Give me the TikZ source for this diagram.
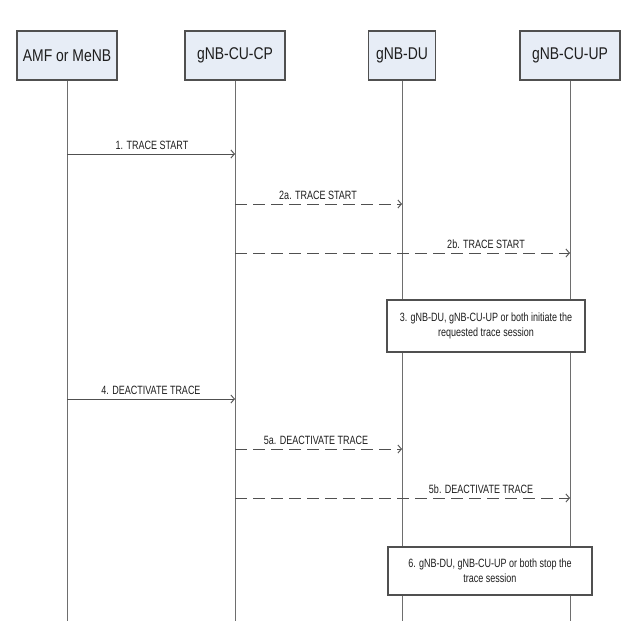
\documentclass[tikz,border=0pt]{standalone}
\usepackage{fontspec}
\setmainfont{Liberation Sans}
\newfontfamily\hdrfont[FakeStretch=0.82]{Liberation Sans}
\newfontfamily\lblfont[FakeStretch=0.75]{Liberation Sans}
\usetikzlibrary{arrows.meta}
\definecolor{hdrfill}{RGB}{231,237,246}
\definecolor{edge}{RGB}{80,80,80}
\definecolor{lifegray}{RGB}{110,110,110}
\definecolor{txt}{RGB}{30,30,30}
\tikzset{
  hdr/.style={draw=edge, line width=1.1pt, fill=hdrfill, minimum height=49pt, inner sep=0pt,
              font=\hdrfont\fontsize{17}{19}\selectfont, text=txt},
  lifeline/.style={draw=lifegray, line width=0.9pt},
  msg/.style={draw=edge, line width=0.9pt, -{Straight Barb[length=3.5pt,width=8pt,line width=0.9pt]}},
  dmsg/.style={msg, dash pattern=on 12pt off 6pt},
  lbl/.style={font=\lblfont\fontsize{12}{14}\selectfont, text=txt, inner sep=1pt},
  actbox/.style={draw=edge, line width=1.1pt, fill=white, inner sep=0pt, align=center,
                 font=\lblfont\fontsize{12}{15}\selectfont, text=txt}
}
\begin{document}
\begin{tikzpicture}[x=1pt,y=-1pt]
\useasboundingbox (0,0) rectangle (640,640);
\fill[white] (0,0) rectangle (640,640);
% headers
\node[hdr, minimum width=100pt] (amf) at (67,55.5) {AMF or MeNB};
\node[hdr, minimum width=100pt] (cp) at (235,55.5) {gNB-CU-CP};
\node[hdr, minimum width=67pt] (du) at (402,55.5) {gNB-DU};
\node[hdr, minimum width=100pt] (up) at (570,55.5) {gNB-CU-UP};
% lifeline ends
\coordinate (amfe) at (67,621);
\coordinate (cpe) at (235,621);
\coordinate (due) at (402,621);
\coordinate (upe) at (570,621);
\draw[lifeline] (amf.south) -- (amfe);
\draw[lifeline] (cp.south) -- (cpe);
\draw[lifeline] (du.south) -- (due);
\draw[lifeline] (up.south) -- (upe);
% message endpoints
\coordinate (m1s) at (67,154);  \coordinate (m1e) at (235,154);
\coordinate (m2as) at (235,204); \coordinate (m2ae) at (402,204);
\coordinate (m2bs) at (235,253); \coordinate (m2be) at (570,253);
\coordinate (m4s) at (67,399);  \coordinate (m4e) at (235,399);
\coordinate (m5as) at (235,449); \coordinate (m5ae) at (402,449);
\coordinate (m5bs) at (235,498); \coordinate (m5be) at (570,498);
\draw[msg] (m1s) -- (m1e);
\draw[dmsg] (m2as) -- (m2ae);
\draw[dmsg] (m2bs) -- (m2be);
\draw[msg] (m4s) -- (m4e);
\draw[dmsg] (m5as) -- (m5ae);
\draw[dmsg] (m5bs) -- (m5be);
% labels
\node[lbl] (l1) at (152,145) {1. TRACE START};
\node[lbl] (l2a) at (318,195) {2a. TRACE START};
\node[lbl] (l2b) at (486,244) {2b. TRACE START};
\node[lbl] (l4) at (151,390) {4. DEACTIVATE TRACE};
\node[lbl] (l5a) at (316,440) {5a. DEACTIVATE TRACE};
\node[lbl] (l5b) at (481,489) {5b. DEACTIVATE TRACE};
% action boxes
\node[actbox, minimum width=198pt, minimum height=52pt] (b3) at (486,326)
  {3. gNB-DU, gNB-CU-UP or both initiate the\\requested trace session};
\node[actbox, minimum width=204pt, minimum height=48pt] (b6) at (490,571)
  {6. gNB-DU, gNB-CU-UP or both stop the\\trace session};
\end{tikzpicture}
\end{document}
